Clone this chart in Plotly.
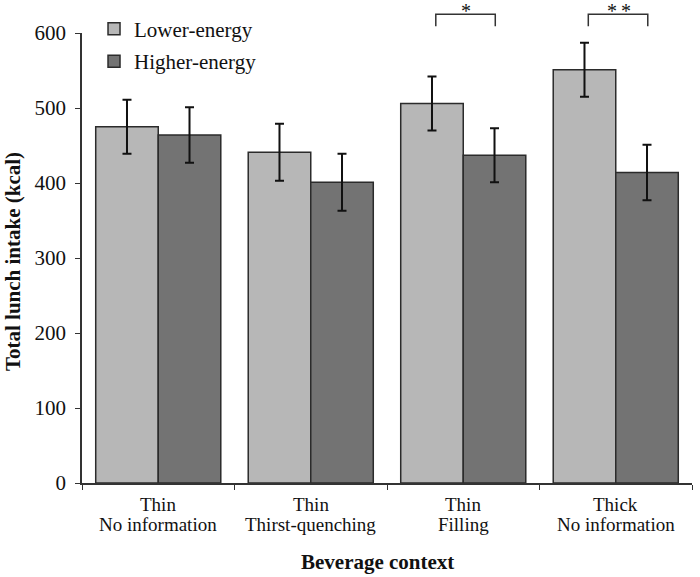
import plotly.graph_objects as go

categories = ["Thin<br>No information", "Thin<br>Thirst-quenching", "Thin<br>Filling", "Thick<br>No information"]
cat_line1 = ["Thin", "Thin", "Thin", "Thick"]
cat_line2 = ["No information", "Thirst-quenching", "Filling", "No information"]
lower_energy = [475, 441, 506, 551]
lower_err = [36, 38, 36, 36]
higher_energy = [464, 401, 437, 414]
higher_err = [37, 38, 36, 37]
sig_labels = ["", "", "*", "**"]

FONT = "Liberation Serif, Times New Roman, serif"
EDGE = "#2b2b2b"
YMAX = 600
N = len(categories)

fig = go.Figure()
fig.add_trace(go.Bar(
    name="Lower-energy", x=categories, y=lower_energy,
    marker=dict(color="#b7b7b7", line=dict(color=EDGE, width=1.5)),
    error_y=dict(type="data", array=lower_err, color="#111", thickness=2, width=4.5),
    legendgroup="a",
))
fig.add_trace(go.Bar(
    name="Higher-energy", x=categories, y=higher_energy,
    marker=dict(color="#737373", line=dict(color=EDGE, width=1.5)),
    error_y=dict(type="data", array=higher_err, color="#111", thickness=2, width=4.5),
    legendgroup="b",
))

def xp(v):
    # category-axis position -> paper fraction
    return (v + 0.5) / N

annotations = []
shapes = []
top, leg = 625, 609
for i, s in enumerate(sig_labels):
    if not s:
        continue
    x0, x1 = xp(i - 0.18), xp(i + 0.21)
    shapes.append(dict(type="path", xref="paper", yref="paper",
                       path=f"M {x0},{leg/YMAX} L {x0},{top/YMAX} L {x1},{top/YMAX} L {x1},{leg/YMAX}",
                       line=dict(color="#333", width=1.5)))
    annotations.append(dict(text="\u2009".join(s), x=xp(i + 0.02), y=1.049, xref="paper", yref="paper",
                            xanchor="center", yanchor="middle", showarrow=False,
                            font=dict(size=20, family=FONT, color="#111")))

for i in range(N):
    annotations.append(dict(text=cat_line1[i], x=xp(i), y=0, xref="paper", yref="paper",
                            xanchor="center", yanchor="middle", yshift=-21, showarrow=False,
                            font=dict(size=19, family=FONT, color="#111")))
    annotations.append(dict(text=cat_line2[i], x=xp(i), y=0, xref="paper", yref="paper",
                            xanchor="center", yanchor="middle", yshift=-41.5, showarrow=False,
                            font=dict(size=19, family=FONT, color="#111")))

annotations.append(dict(text="<b>Beverage context</b>", x=0.485, y=-0.175, xref="paper", yref="paper",
                        xanchor="center", yanchor="middle", showarrow=False,
                        font=dict(size=21, family=FONT, color="#111")))
annotations.append(dict(text="<b>Total lunch intake (kcal)</b>", x=-0.114, y=0.492, xref="paper", yref="paper",
                        xanchor="center", yanchor="middle", textangle=-90, showarrow=False,
                        font=dict(size=21, family=FONT, color="#111")))

fig.update_layout(
    width=700, height=577,
    margin=dict(l=82, r=8, t=33, b=94, autoexpand=False),
    plot_bgcolor="white", paper_bgcolor="white",
    font=dict(family=FONT, size=21, color="#111"),
    barmode="group", bargap=0.18, bargroupgap=0,
    legend=dict(x=0.0197, y=1.054, xanchor="left", yanchor="top",
                bgcolor="rgba(0,0,0,0)", font=dict(size=21),
                tracegroupgap=2, itemwidth=30),
    shapes=shapes,
    annotations=annotations,
    xaxis=dict(
        type="category", tickson="boundaries", ticks="outside", ticklen=5,
        tickcolor="#333", showline=True, linecolor="#333", linewidth=1.5,
        showgrid=False, showticklabels=False, automargin=False,
    ),
    yaxis=dict(
        range=[0, YMAX], dtick=100, ticks="outside", ticklen=5, tickcolor="#333",
        showline=True, linecolor="#333", linewidth=1.5, showgrid=False,
        zeroline=False, tickfont=dict(size=21), ticklabelstandoff=5, automargin=False,
    ),
)
# let the 700x577 figure fill the page from its top-left corner (no default body margin)
fig.write_html("out.html", config={"displayModeBar": False},
               post_script="document.body.style.margin='0px';")
